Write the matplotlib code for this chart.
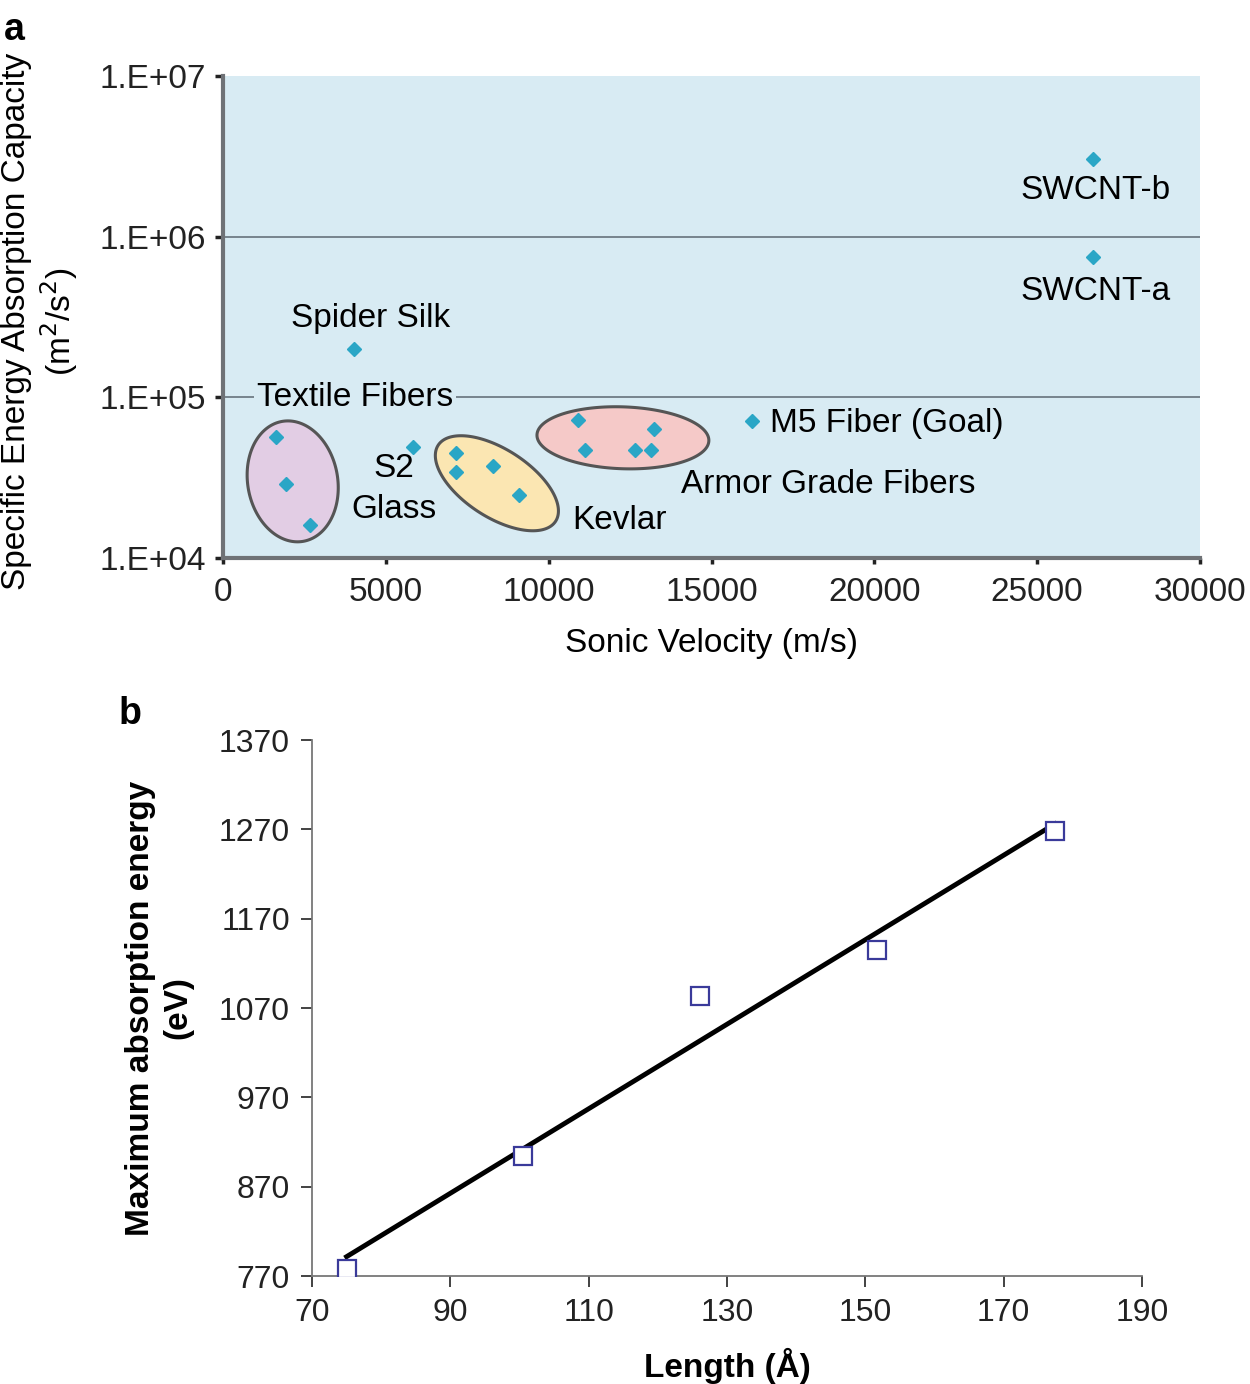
import numpy as np
import matplotlib
matplotlib.use("Agg")
import matplotlib.pyplot as plt

plt.rcParams['font.family'] = ['Liberation Sans', 'DejaVu Sans']

# panel a data: sonic velocity (m/s) vs specific energy absorption (m2/s2)
swcnt_x = [26700, 26700]
swcnt_y = [3.05e6, 7.5e5]
silk_x = [4020]
silk_y = [1.99e5]
m5_x = [16240]
m5_y = [7.1e4]
textile_x = [1630, 1930, 2670]
textile_y = [5.65e4, 2.88e4, 1.6e4]
s2_x = [5830]
s2_y = [4.9e4]
kevlar_x = [7150, 7150, 8290, 9090]
kevlar_y = [4.49e4, 3.42e4, 3.73e4, 2.46e4]
armor_x = [10900, 11110, 12650, 13140, 13230]
armor_y = [7.2e4, 4.69e4, 4.69e4, 4.69e4, 6.33e4]
ytick_vals = [1e4, 1e5, 1e6, 1e7]
ytick_labels = ['1.E+04', '1.E+05', '1.E+06', '1.E+07']
xtick_vals = [0, 5000, 10000, 15000, 20000, 25000, 30000]

# panel b data: length (A) vs maximum absorption energy (eV)
length = [75.0, 100.5, 126.1, 151.7, 177.4]
energy = [778, 904, 1083, 1135, 1268]
b_xticks = [70, 90, 110, 130, 150, 170, 190]
b_yticks = [770, 870, 970, 1070, 1170, 1270, 1370]

fig = plt.figure(figsize=(12.5, 13.84), dpi=100)

# ---------- panel a ----------
axa = fig.add_axes([0.1784, 0.5968, 0.7816, 0.3483])
axa.set_facecolor('#d8ebf3')
axa.set_yscale('log')
axa.set_xlim(0, 30000)
axa.set_ylim(1e4, 1e7)

axa.axhline(1e6, color='#6f7c85', lw=1.3, zorder=1)
axa.axhline(1e5, color='#6f7c85', lw=1.3, zorder=1)

# ellipses drawn in a pixel-like frame: 1000 m/s ~ 32.57 px, 1 decade ~ 161 px
def draw_ellipse(ax, cx, cy, a_px, b_px, ang, fc):
    t = np.linspace(0, 2 * np.pi, 200)
    th = np.deg2rad(ang)
    px = a_px * np.cos(t) * np.cos(th) - b_px * np.sin(t) * np.sin(th)
    py = a_px * np.cos(t) * np.sin(th) + b_px * np.sin(t) * np.cos(th)
    xs = cx + px / 32.57 * 1000
    ys = 10 ** (np.log10(cy) + py / 161.0)
    ax.fill(xs, ys, facecolor=fc, edgecolor='#555555', lw=2.2, zorder=2)

draw_ellipse(axa, 2140, 3.0e4, 45, 61, 10, '#e2cde4')
draw_ellipse(axa, 8410, 2.92e4, 70, 34, -33, '#fbe6b2')
draw_ellipse(axa, 12280, 5.6e4, 86, 31, -2, '#f5c9c8')

mk = dict(marker='D', ms=7.5, color='#2aa6c6', ls='none', zorder=4)
for xs, ys in [(swcnt_x, swcnt_y), (silk_x, silk_y), (m5_x, m5_y),
               (textile_x, textile_y), (s2_x, s2_y), (kevlar_x, kevlar_y),
               (armor_x, armor_y)]:
    axa.plot(xs, ys, **mk)

fs = 24
axa.text(26800, 1.93e6, 'SWCNT-b', fontsize=fs, ha='center', va='center', zorder=5)
axa.text(26800, 4.55e5, 'SWCNT-a', fontsize=fs, ha='center', va='center', zorder=5)
axa.text(4520, 3.1e5, 'Spider Silk', fontsize=fs, ha='center', va='center', zorder=5)
axa.text(4050, 1.0e5, 'Textile Fibers', fontsize=fs, ha='center', va='center', zorder=5,
         bbox=dict(facecolor='#d8ebf3', edgecolor='none', pad=2))
axa.text(5250, 3.62e4, 'S2', fontsize=fs, ha='center', va='center', zorder=5)
axa.text(5250, 2.01e4, 'Glass', fontsize=fs, ha='center', va='center', zorder=5)
axa.text(12190, 1.7e4, 'Kevlar', fontsize=fs, ha='center', va='center', zorder=5)
axa.text(18580, 2.88e4, 'Armor Grade Fibers', fontsize=fs, ha='center', va='center', zorder=5)
axa.text(16800, 6.9e4, 'M5 Fiber (Goal)', fontsize=fs, ha='left', va='center', zorder=5)

axa.set_yticks(ytick_vals)
axa.set_yticklabels(ytick_labels)
axa.yaxis.set_minor_locator(matplotlib.ticker.NullLocator())
axa.set_xticks(xtick_vals)
axa.set_xticklabels([str(v) for v in xtick_vals])
axa.tick_params(labelsize=fs, colors='#222222', length=6, width=2.5, pad=6)
axa.tick_params(axis='x', pad=10, length=4)
for s in ['top', 'right']:
    axa.spines[s].set_visible(False)
for s in ['left', 'bottom']:
    axa.spines[s].set_color('#6f7276')
    axa.spines[s].set_linewidth(3)
axa.set_xlabel('Sonic Velocity (m/s)', fontsize=fs, labelpad=14)
axa.set_ylabel('Specific Energy Absorption Capacity\n(m$^2$/s$^2$)', fontsize=fs,
               linespacing=1.2)
axa.yaxis.set_label_coords(-0.146, 0.49)
fig.text(0.003, 0.978, 'a', fontsize=27, fontweight='bold', va='center')

# ---------- panel b ----------
axb = fig.add_axes([0.2496, 0.078, 0.664, 0.3873])
axb.plot(length, energy, marker='s', ms=13, mfc='white', mec='#3a3a9a', mew=1.6,
         ls='none', zorder=3)
slope, icpt = np.polyfit(length, energy, 1)
fx = np.array([length[0], length[-1]])
axb.plot(fx, slope * fx + icpt, color='black', lw=3.5, zorder=2)
axb.set_xlim(70, 190)
axb.set_ylim(770, 1370)
axb.set_xticks(b_xticks)
axb.set_yticks(b_yticks)
axb.tick_params(labelsize=23, colors='#222222', length=8, width=1.2, pad=8)
for s in ['top', 'right']:
    axb.spines[s].set_visible(False)
for s in ['left', 'bottom']:
    axb.spines[s].set_color('#777777')
    axb.spines[s].set_linewidth(1.3)
axb.set_xlabel('Length (Å)', fontsize=24, fontweight='bold', labelpad=14)
axb.set_ylabel('Maximum absorption energy\n(eV)', fontsize=24, fontweight='bold',
               linespacing=1.25)
axb.yaxis.set_label_coords(-0.143, 0.5)
fig.text(0.095, 0.484, 'b', fontsize=27, fontweight='bold', va='center')

fig.savefig('out.png', dpi=100)
